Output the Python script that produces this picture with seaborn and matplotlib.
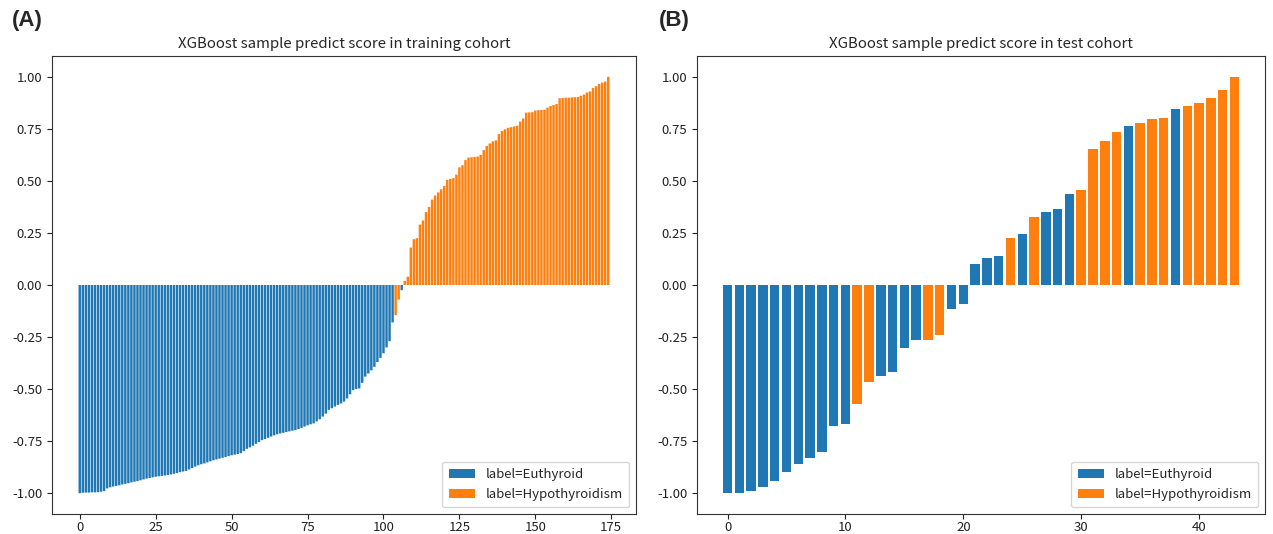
import matplotlib
matplotlib.use("Agg")
import matplotlib.pyplot as plt
import seaborn as sns
import pandas as pd
import numpy as np

# ---------------- data ----------------
train_scores = [
    -1.00, -0.998, -0.997, -0.997, -0.996, -0.996, -0.995, -0.993, -0.99,
    -0.977, -0.972, -0.968, -0.965, -0.962, -0.958, -0.955, -0.952, -0.948, -0.945, -0.942,
    -0.938, -0.934, -0.93, -0.927, -0.924, -0.921, -0.919, -0.917, -0.915, -0.913,
    -0.91, -0.907, -0.903, -0.899, -0.896, -0.893, -0.886, -0.879, -0.872, -0.866,
    -0.861, -0.857, -0.852, -0.847, -0.842, -0.838, -0.834, -0.83, -0.826, -0.822,
    -0.818, -0.815, -0.812, -0.808, -0.798, -0.787, -0.78, -0.772, -0.763, -0.754,
    -0.745, -0.74, -0.734, -0.728, -0.722, -0.717, -0.713, -0.71, -0.706, -0.703,
    -0.70, -0.697, -0.692, -0.686, -0.68, -0.674, -0.669, -0.665, -0.655, -0.645,
    -0.632, -0.618, -0.60, -0.592, -0.584, -0.576, -0.569, -0.56, -0.545, -0.525,
    -0.505, -0.50, -0.497, -0.47, -0.44, -0.425, -0.41, -0.393, -0.37, -0.35,
    -0.328, -0.30, -0.27, -0.18,
    -0.145, -0.07, -0.025, 0.02, 0.04,
    0.18, 0.22, 0.225, 0.29, 0.31, 0.35, 0.375, 0.41, 0.43, 0.445,
    0.46, 0.476, 0.505, 0.51, 0.513, 0.53, 0.565, 0.575, 0.60, 0.612,
    0.614, 0.615, 0.617, 0.625, 0.648, 0.668, 0.68, 0.69, 0.695, 0.725,
    0.74, 0.748, 0.755, 0.758, 0.762, 0.765, 0.785, 0.80, 0.828, 0.829,
    0.83, 0.838, 0.84, 0.841, 0.842, 0.852, 0.86, 0.865, 0.869, 0.897,
    0.898, 0.90, 0.90, 0.901, 0.902, 0.903, 0.909, 0.915, 0.925, 0.93,
    0.946, 0.955, 0.966, 0.972, 0.977, 1.00,
]
# 0 = Euthyroid, 1 = Hypothyroidism
train_labels = [0] * 104 + [1, 1, 0, 1, 1] + [1] * 66

test_scores = [
    -1.00, -1.00, -0.99, -0.97, -0.94, -0.90, -0.86, -0.83, -0.80, -0.676,
    -0.67, -0.574, -0.468, -0.437, -0.417, -0.305, -0.264, -0.264, -0.24, -0.117,
    -0.093, 0.10, 0.13, 0.139, 0.224, 0.244, 0.327, 0.352, 0.365, 0.436,
    0.455, 0.654, 0.694, 0.737, 0.762, 0.777, 0.796, 0.80, 0.847, 0.86,
    0.876, 0.90, 0.937, 1.00,
]
test_labels = [0, 0, 0, 0, 0, 0, 0, 0, 0, 0,
               0, 1, 1, 0, 0, 0, 0, 1, 1, 0,
               0, 0, 0, 0, 1, 0, 1, 0, 0, 0,
               1, 1, 1, 1, 0, 1, 1, 1, 0, 1,
               1, 1, 1, 1]

label_names = ["label=Euthyroid", "label=Hypothyroidism"]
titles = ["XGBoost sample predict score in training cohort",
          "XGBoost sample predict score in test cohort"]
panel_tags = ["(A)", "(B)"]
y_ticks = [-1.00, -0.75, -0.50, -0.25, 0.00, 0.25, 0.50, 0.75, 1.00]

# ---------------- plot ----------------
sns.set_style("white")
plt.rcParams["font.family"] = ["Noto Sans CJK SC", "DejaVu Sans"]

W, H = 1273, 534
fig = plt.figure(figsize=(W / 100, H / 100), dpi=100)
ax_a = fig.add_axes([52 / W, 1 - 514 / H, 584 / W, 458 / H])
ax_b = fig.add_axes([697 / W, 1 - 514 / H, 568 / W, 458 / H])

palette = {label_names[0]: "#1f77b4", label_names[1]: "#ff7f0e"}

def draw(ax, scores, labels, title, tag, xticks, snap):
    df = pd.DataFrame({
        "idx": np.arange(len(scores)),
        "score": scores,
        "label": [label_names[l] for l in labels],
    })
    sns.barplot(data=df, x="idx", y="score", hue="label", hue_order=label_names,
                palette=palette, native_scale=True, dodge=False, saturation=1,
                width=0.8, ax=ax, errorbar=None, linewidth=0)
    if not snap:
        for p in ax.patches:
            p.set_snap(False)
    ax.set_xlabel("")
    ax.set_ylabel("")
    ax.set_xticks(xticks)
    ax.set_xticklabels([str(t) for t in xticks])
    ax.set_yticks(y_ticks)
    ax.set_yticklabels([f"{v:.2f}" for v in y_ticks])
    ax.set_ylim(-1.1, 1.1)
    n = len(scores)
    span = (n - 1) + 0.8
    ax.set_xlim(-0.4 - 0.05 * span, n - 1 + 0.4 + 0.05 * span)
    ax.tick_params(axis="both", which="both", length=3.5, width=0.8,
                   labelsize=9.5, direction="out", bottom=True, left=True,
                   colors="#222222")
    ax.tick_params(axis="x", pad=1.5)
    for s in ax.spines.values():
        s.set_color("#333333")
        s.set_linewidth(0.8)
    ax.set_title(title, fontsize=10.8, pad=6)
    leg = ax.legend(loc="lower right", fontsize=9.5, frameon=True,
                    handlelength=2.0, borderpad=0.5)
    leg.get_frame().set_edgecolor("#cccccc")
    ax.text(-0.068, 1.055, tag, transform=ax.transAxes, fontsize=16,
            fontweight="bold", ha="left", va="bottom",
            family=["Liberation Sans", "DejaVu Sans"])

draw(ax_a, train_scores, train_labels, titles[0], panel_tags[0],
     [0, 25, 50, 75, 100, 125, 150, 175], False)
draw(ax_b, test_scores, test_labels, titles[1], panel_tags[1],
     [0, 10, 20, 30, 40], True)

fig.savefig("out.png", dpi=100)
